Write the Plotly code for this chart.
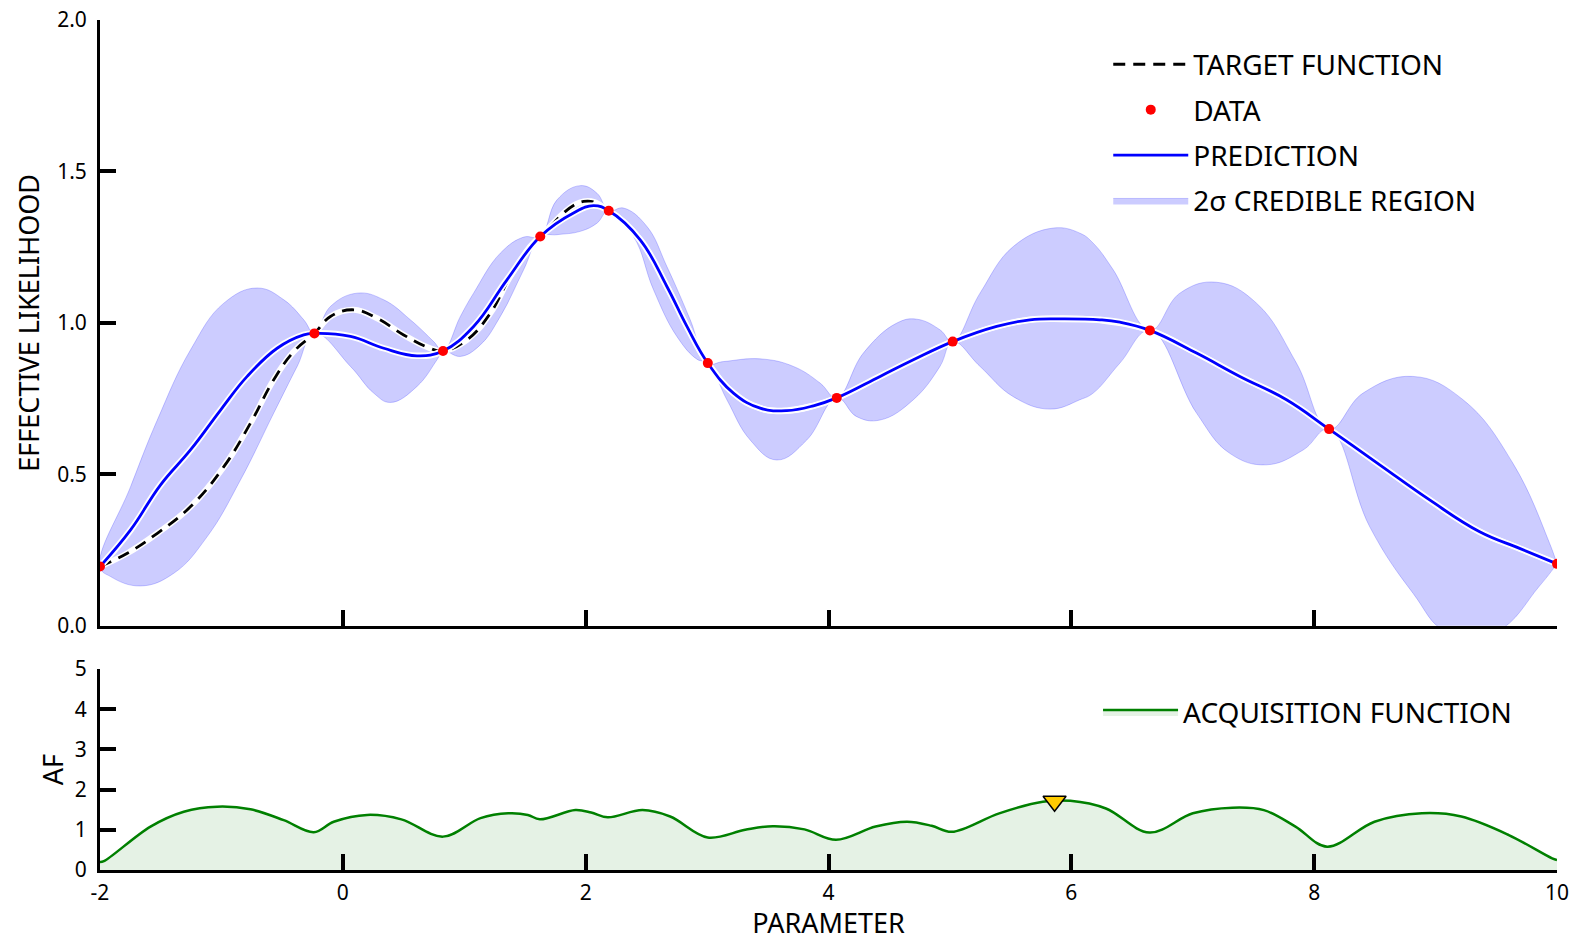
import plotly.graph_objects as go

# ---------------- data ----------------
data_x = [-2.0, -0.234, 0.825, 1.626, 2.19, 3.006, 4.068, 5.023, 6.647, 8.123, 10.0]
data_y = [0.195, 0.965, 0.907, 1.285, 1.370, 0.867, 0.752, 0.938, 0.975, 0.649, 0.204]

pred_x = [-2.0, -1.748, -1.501, -1.255, -1.007, -0.788, -0.541, -0.322, -0.234, 0.063, 0.337,
          0.611, 0.825, 1.077, 1.352, 1.626, 1.900, 2.065, 2.19, 2.449, 2.669, 2.834, 3.006,
          3.217, 3.437, 3.657, 3.876, 4.068, 4.425, 4.699, 5.023, 5.385, 5.659, 5.933, 6.235,
          6.400, 6.647, 7.031, 7.388, 7.772, 8.123, 8.540, 8.951, 9.363, 9.692, 10.0]
pred_y = [0.195, 0.316, 0.465, 0.580, 0.712, 0.823, 0.916, 0.960, 0.965, 0.955, 0.916,
          0.891, 0.907, 0.988, 1.142, 1.285, 1.363, 1.387, 1.370, 1.274, 1.120, 0.988, 0.867,
          0.768, 0.718, 0.710, 0.726, 0.752, 0.823, 0.878, 0.938, 0.988, 1.010, 1.013, 1.010,
          1.002, 0.975, 0.900, 0.823, 0.746, 0.649, 0.531, 0.415, 0.310, 0.255, 0.204]

target_x = [-2.0, -1.775, -1.528, -1.254, -0.980, -0.760, -0.569, -0.404, -0.234, -0.102, 0.090,
            0.282, 0.501, 0.694, 0.825, 1.023, 1.215, 1.379, 1.544, 1.626, 1.983, 2.19, 2.449,
            2.669, 2.834, 3.006, 3.217, 3.437, 3.657, 3.876, 4.068, 4.425, 4.699, 5.023, 5.385,
            5.659, 5.933, 6.235, 6.647, 7.031, 7.388, 7.772, 8.123, 8.540, 8.951, 9.363, 9.692, 10.0]
target_y = [0.195, 0.239, 0.305, 0.393, 0.525, 0.669, 0.812, 0.905, 0.965, 1.021, 1.043,
            1.015, 0.960, 0.920, 0.907, 0.944, 1.032, 1.153, 1.252, 1.285, 1.401, 1.370, 1.274,
            1.120, 0.988, 0.867, 0.768, 0.718, 0.710, 0.726, 0.752, 0.823, 0.878, 0.938, 0.988,
            1.010, 1.015, 1.008, 0.975, 0.900, 0.823, 0.746, 0.649, 0.531, 0.415, 0.310, 0.255, 0.204]

upper_x = [-2.0, -1.748, -1.528, -1.254, -0.980, -0.705, -0.486, -0.322, -0.234, -0.102, 0.118,
           0.337, 0.556, 0.748, 0.825, 0.968, 1.077, 1.297, 1.489, 1.626, 1.764, 1.956, 2.093,
           2.19, 2.312, 2.505, 2.669, 2.861, 3.006, 3.135, 3.437, 3.711, 3.931, 4.068, 4.287,
           4.562, 4.727, 4.918, 5.023, 5.248, 5.522, 5.851, 6.071, 6.180, 6.345, 6.647, 6.894,
           7.196, 7.525, 7.854, 8.123, 8.403, 8.814, 9.226, 9.637, 9.939, 10.0]
upper_y = [0.195, 0.459, 0.679, 0.911, 1.065, 1.115, 1.076, 1.010, 0.965, 1.054, 1.098,
           1.076, 1.010, 0.938, 0.907, 1.021, 1.098, 1.230, 1.283, 1.285, 1.406, 1.453, 1.428,
           1.370, 1.379, 1.318, 1.186, 1.010, 0.867, 0.872, 0.881, 0.856, 0.801, 0.752, 0.900,
           0.999, 1.012, 0.977, 0.938, 1.098, 1.252, 1.313, 1.296, 1.263, 1.175, 0.975, 1.098,
           1.134, 1.065, 0.867, 0.649, 0.768, 0.823, 0.746, 0.536, 0.272, 0.204]

lower_x = [-2.0, -1.913, -1.666, -1.392, -1.117, -0.843, -0.569, -0.376, -0.234, 0.063, 0.254,
           0.392, 0.611, 0.776, 0.825, 0.968, 1.132, 1.297, 1.489, 1.626, 1.764, 1.956, 2.093,
           2.19, 2.394, 2.559, 2.751, 2.916, 3.006, 3.163, 3.355, 3.574, 3.821, 4.068, 4.233,
           4.425, 4.699, 4.918, 5.023, 5.248, 5.522, 5.824, 6.071, 6.180, 6.400, 6.647, 7.031,
           7.305, 7.607, 7.909, 8.123, 8.457, 8.814, 9.089, 9.500, 9.854, 10.0]
lower_y = [0.195, 0.162, 0.131, 0.173, 0.294, 0.481, 0.702, 0.856, 0.965, 0.856, 0.768,
           0.737, 0.790, 0.878, 0.907, 0.889, 0.927, 1.021, 1.175, 1.285, 1.291, 1.302, 1.329,
           1.370, 1.285, 1.109, 0.955, 0.880, 0.867, 0.746, 0.613, 0.547, 0.613, 0.752, 0.690,
           0.679, 0.746, 0.856, 0.938, 0.856, 0.756, 0.715, 0.746, 0.768, 0.867, 0.975, 0.702,
           0.569, 0.531, 0.580, 0.649, 0.327, 0.107, -0.02, -0.02, 0.13, 0.204]

af_x = [-2.0, -1.968, -1.584, -1.31, -1.035, -0.761, -0.487, -0.239, -0.075, 0.200, 0.482,
        0.825, 1.134, 1.362, 1.524, 1.622, 1.915, 2.045, 2.182, 2.468, 2.696, 3.005, 3.314,
        3.541, 3.802, 4.062, 4.388, 4.647, 4.85, 5.016, 5.406, 5.765, 5.992, 6.285, 6.643,
        7.001, 7.326, 7.586, 7.846, 8.107, 8.497, 8.887, 9.212, 9.603, 9.960, 10.0]
af_y = [0.20, 0.22, 1.08, 1.45, 1.575, 1.51, 1.24, 0.94, 1.20, 1.37, 1.26,
        0.83, 1.29, 1.41, 1.37, 1.26, 1.49, 1.43, 1.31, 1.49, 1.33, 0.81, 1.00,
        1.09, 1.01, 0.75, 1.08, 1.20, 1.10, 0.95, 1.41, 1.70, 1.72, 1.53, 0.93,
        1.41, 1.55, 1.49, 1.08, 0.58, 1.20, 1.41, 1.33, 0.87, 0.29, 0.25]

next_x = [5.862]
next_y = [1.71]

x_ticks = [-2, 0, 2, 4, 6, 8, 10]
x_tick_text = ["-2", "0", "2", "4", "6", "8", "10"]
y_ticks_top = [0.0, 0.5, 1.0, 1.5, 2.0]
y_tick_text_top = ["0.0", "0.5", "1.0", "1.5", "2.0"]
y_ticks_bot = [0, 1, 2, 3, 4, 5]
y_tick_text_bot = ["0", "1", "2", "3", "4", "5"]

# ---------------- figure ----------------
FONT = "Noto Sans, DejaVu Sans, sans-serif"
SM = 1.2
fig = go.Figure()

# credible region (polygon: upper, then lower reversed)
fig.add_trace(go.Scatter(
    x=upper_x + lower_x[::-1], y=upper_y + lower_y[::-1],
    mode="lines", fill="toself", fillcolor="rgba(0,0,255,0.2)",
    line=dict(color="rgba(0,0,255,0.2)", width=1, shape="spline", smoothing=SM),
    name="2σ CREDIBLE REGION", legendrank=4, legendgroup="d",
    xaxis="x", yaxis="y"))

# target function (white halo + dashed)
fig.add_trace(go.Scatter(x=target_x, y=target_y, mode="lines", showlegend=False,
                         line=dict(color="white", width=6, shape="spline", smoothing=SM),
                         hoverinfo="skip", xaxis="x", yaxis="y"))
fig.add_trace(go.Scatter(x=target_x, y=target_y, mode="lines", name="TARGET FUNCTION",
                         line=dict(color="black", width=2.8, dash="12px,8px", shape="spline", smoothing=SM),
                         legendrank=1, legendgroup="a", xaxis="x", yaxis="y"))

# prediction (white halo + blue)
fig.add_trace(go.Scatter(x=pred_x, y=pred_y, mode="lines", showlegend=False,
                         line=dict(color="white", width=6.5, shape="spline", smoothing=SM),
                         hoverinfo="skip", xaxis="x", yaxis="y"))
fig.add_trace(go.Scatter(x=pred_x, y=pred_y, mode="lines", name="PREDICTION",
                         line=dict(color="#0000FF", width=2.8, shape="spline", smoothing=SM),
                         legendrank=3, legendgroup="c", xaxis="x", yaxis="y"))

# data
fig.add_trace(go.Scatter(x=data_x, y=data_y, mode="markers", name="DATA",
                         marker=dict(color="#FF0000", size=10),
                         legendrank=2, legendgroup="b", xaxis="x", yaxis="y"))

# acquisition function
fig.add_trace(go.Scatter(x=af_x, y=af_y, mode="lines", showlegend=False,
                         line=dict(color="white", width=6, shape="spline", smoothing=1.0),
                         hoverinfo="skip", xaxis="x2", yaxis="y2"))
fig.add_trace(go.Scatter(x=af_x, y=af_y, mode="lines", name="ACQUISITION FUNCTION",
                         fill="tozeroy", fillcolor="rgba(0,128,0,0.1)",
                         line=dict(color="#008000", width=2.5, shape="spline", smoothing=1.0),
                         legend="legend2", xaxis="x2", yaxis="y2"))
fig.add_trace(go.Scatter(x=next_x, y=next_y, mode="markers", showlegend=False,
                         marker=dict(symbol="triangle-down", size=20, color="#FFCC00",
                                     line=dict(color="black", width=1.5)),
                         cliponaxis=False, xaxis="x2", yaxis="y2"))

axis_common = dict(showgrid=False, zeroline=False, showline=True, linecolor="black",
                   linewidth=3, ticks="inside", ticklen=16, tickwidth=4, tickcolor="black",
                   automargin=False,
                   tickfont=dict(family=FONT, size=21, color="black"))

TITLE_FONT = dict(family=FONT, size=27, color="black")

fig.update_layout(
    width=1574, height=941,
    margin=dict(l=100, r=17, t=20, b=71, autoexpand=False),
    paper_bgcolor="white", plot_bgcolor="white",
    font=dict(family=FONT, color="black"),
    xaxis=dict(domain=[0, 1], range=[-2, 10], anchor="y", tickvals=x_ticks,
               showticklabels=False, **axis_common),
    yaxis=dict(domain=[0.2875, 1.0], range=[0, 2], anchor="x", tickvals=y_ticks_top,
               ticktext=y_tick_text_top, ticklabelstandoff=6,
               title=dict(text="EFFECTIVE LIKELIHOOD", font=TITLE_FONT, standoff=10),
               **axis_common),
    xaxis2=dict(domain=[0, 1], range=[-2, 10], anchor="y2", tickvals=x_ticks,
                ticktext=x_tick_text, ticklabelstandoff=2,
                title=dict(text="PARAMETER", font=TITLE_FONT, standoff=4),
                **axis_common),
    yaxis2=dict(domain=[0, 0.2365], range=[0, 5], anchor="x2", tickvals=y_ticks_bot,
                ticktext=y_tick_text_bot, ticklabelstandoff=6,
                title=dict(text="AF", font=TITLE_FONT, standoff=4),
                **axis_common),
    legend=dict(x=0.692, y=0.977, xanchor="left", yanchor="top",
                font=dict(family=FONT, size=28, color="black"),
                bgcolor="rgba(0,0,0,0)", itemwidth=75, tracegroupgap=6,
                traceorder="grouped"),
    legend2=dict(x=0.685, y=0.215, xanchor="left", yanchor="top",
                 font=dict(family=FONT, size=28, color="black"),
                 bgcolor="rgba(0,0,0,0)", itemwidth=75),
    showlegend=True,
)

fig.write_html("out.html")
